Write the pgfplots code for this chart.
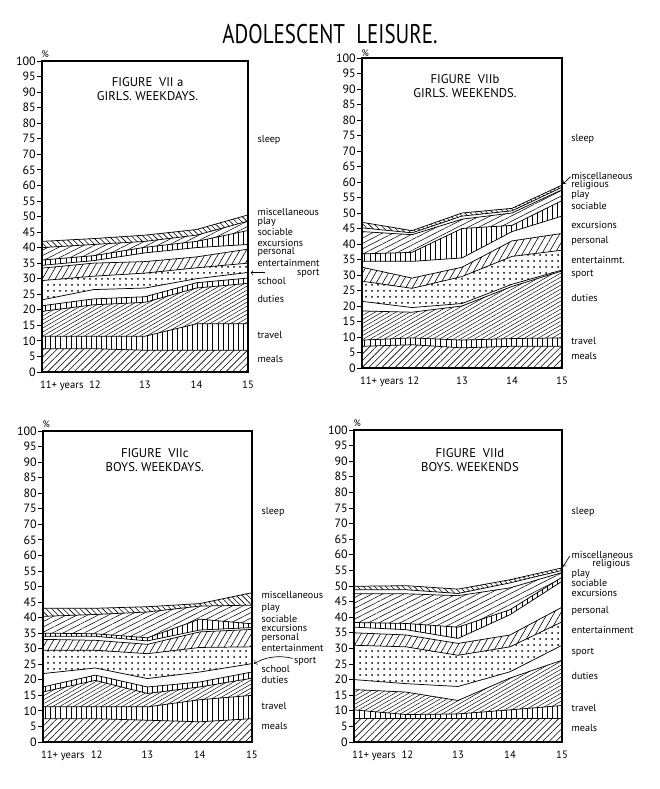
\documentclass[border=0pt]{standalone}
\usepackage{fontspec}
\setmainfont{PT Sans}
\usepackage{graphicx}
\usepackage{pgfplots}
\pgfplotsset{compat=1.18}
\usepackage{pgfplotstable}
\usepgfplotslibrary{fillbetween}
\usetikzlibrary{patterns.meta}

% cumulative upper boundaries of the bands (per cent of the day)
% a, c: meals travel duties school sport entertainment personal excursions sociable play misc
\pgfplotstableread{
x  b1  b2   b3   b4   b5   b6   b7   b8   b9   b10  b11
11 7.5 11.5 19.5 21.3 23.2 29.4 33.4 34.3 36.0 40.0 42.0
12 7.5 11.5 21.6 23.5 26.5 30.8 35.0 35.8 37.4 41.0 42.9
13 7.0 11.5 22.4 24.2 27.0 31.8 35.5 38.3 40.1 42.0 44.0
14 7.0 15.5 27.0 28.7 30.0 33.5 37.0 40.0 42.0 44.0 45.8
15 7.0 15.5 28.5 30.2 32.0 35.0 39.5 41.0 45.5 48.5 50.5
}\tA
% b, d: meals travel duties sport entertainment personal excursions sociable play religious misc
\pgfplotstableread{
x  b1  b2  b3   b4   b5   b6   b7   b8   b9   b10  b11
11 7.0 9.0 18.4 21.5 28.0 32.5 34.4 36.8 44.0 45.2 47.0
12 7.5 9.7 18.0 19.5 25.7 29.0 34.4 37.3 43.0 43.6 44.3
13 6.5 9.0 20.0 20.8 29.5 32.5 35.5 45.0 48.0 49.0 50.0
14 7.0 9.5 26.3 27.0 36.0 41.0 44.0 46.0 50.0 50.7 51.5
15 7.0 9.7 31.3 31.6 38.0 43.4 49.0 54.0 57.5 58.3 59.0
}\tB
\pgfplotstableread{
x  b1  b2   b3   b4   b5   b6   b7   b8   b9   b10  b11
11 7.5 11.3 16.1 17.7 22.0 29.5 33.0 34.0 35.0 40.4 43.0
12 7.5 11.3 19.8 21.5 23.8 29.5 32.7 34.0 34.8 41.0 43.0
13 7.0 11.3 15.6 17.7 20.4 28.4 31.4 32.5 33.5 41.8 43.5
14 6.5 13.6 17.7 19.3 22.5 30.4 35.4 36.0 39.5 43.7 44.5
15 7.5 15.0 20.5 22.5 25.2 30.6 36.2 36.8 38.0 44.0 48.0
}\tC
\pgfplotstableread{
x  b1  b2   b3   b4   b5   b6   b7   b8   b9   b10  b11
11 7.5 10.3 16.8 20.0 31.0 35.0 36.8 38.3 47.5 48.8 49.9
12 7.5 8.8  16.0 18.7 30.5 34.3 36.0 38.0 47.5 48.8 50.1
13 7.5 9.0  13.3 17.8 27.8 31.6 33.2 36.8 46.9 47.6 49.0
14 7.5 10.3 20.5 22.5 30.5 34.3 40.8 42.4 49.4 51.0 52.0
15 7.5 11.7 26.2 31.0 38.5 43.2 51.5 52.8 54.3 55.0 55.8
}\tD

\tikzset{
 pNE/.style={pattern={Lines[angle=45,distance=3.5pt,line width=0.45pt]},pattern color=black},
 pV/.style={pattern={Lines[angle=90,distance=3.8pt,line width=0.5pt]},pattern color=black},
 pDuty/.style={pattern={Lines[angle=30,distance=2.6pt,line width=0.35pt]},pattern color=black},
 pDots/.style={pattern={Dots[distance=4.5pt,radius=0.75pt]},pattern color=black},
 pPers/.style={pattern={Lines[angle=60,distance=4.2pt,line width=0.45pt]},pattern color=black},
 pPlay/.style={pattern={Lines[angle=27,distance=3.6pt,line width=0.4pt]},pattern color=black},
 pMisc/.style={pattern={Lines[angle=-45,distance=3pt,line width=0.45pt]},pattern color=black},
 lbl/.style={anchor=west,inner sep=0pt,font=\fontsize{7.6}{8}\selectfont},
 ftitle/.style={align=center,font=\fontsize{9.5}{10.5}\selectfont},
 pct/.style={font=\fontsize{7}{7}\selectfont,anchor=south west,inner sep=0pt},
}

\newcommand{\bounds}[1]{%
 \addplot[draw=none,name path=b0] coordinates {(11,0) (15,0)};
 \pgfplotsinvokeforeach{1,...,11}{\addplot[black,line width=0.55pt,name path=b##1] table[x=x,y=b##1]{#1};}
}
\newcommand{\band}[3]{\addplot[#3,draw=none] fill between[of=b#1 and b#2];}

\pgfplotsset{panel/.style={
 scale only axis, xmin=11, xmax=15, ymin=0, ymax=100,
 ytick={0,5,...,100}, xtick={11,12,13,14,15},
 xticklabels={\rlap{\kern-1.5pt 11+ years},\kern2pt 12,13,14,15},
 tick align=outside, tick pos=left, major tick length=3.5pt,
 xtick style={draw=none}, tick style={black,line width=0.6pt},
 axis line style={line width=0.8pt},
 /pgf/number format/assume math mode=true,
 yticklabel style={font=\fontsize{9}{9}\selectfont,inner sep=1pt},
 xticklabel style={font=\fontsize{8}{9}\selectfont},
 clip=false,
}}

\begin{document}
\begin{tikzpicture}
\node[inner sep=0pt] at (247.5pt,566pt) {\fontsize{15}{15}\selectfont\scalebox{1.05}[1.35]{ADOLESCENT\ \ LEISURE.}};

% ---------- a : girls weekdays
\begin{axis}[panel, at={(31.5pt,312.75pt)}, anchor=south west, width=154.5pt, height=233.25pt]
\bounds{\tA}
\band{0}{1}{pNE}\band{1}{2}{pV}\band{2}{3}{pDuty}\band{3}{4}{pV}
\band{5}{6}{pDots}\band{6}{7}{pPers}\band{8}{9}{pV}\band{9}{10}{pPlay}\band{10}{11}{pMisc}
\node[pct] at ([xshift=-0.5pt,yshift=2.2pt]axis cs:11,100) {\%};
\node[ftitle] at (axis cs:13.05,91.1) {FIGURE\ \ VII a\\GIRLS. WEEKDAYS.};
\node[lbl] at (axis cs:15.18,74.6) {sleep};
\node[lbl] at (axis cs:15.18,51.3) {miscellaneous};
\node[lbl] at (axis cs:15.18,48.3) {play};
\node[lbl] at (axis cs:15.18,45.0) {sociable};
\node[lbl] at (axis cs:15.18,41.6) {excursions};
\node[lbl] at (axis cs:15.18,38.5) {personal};
\node[lbl] at (axis cs:15.18,35.2) {entertainment};
\node[lbl] at (axis cs:15.95,31.7) {sport};
\node[lbl] at (axis cs:15.18,29.4) {school};
\node[lbl] at (axis cs:15.18,23.6) {duties};
\node[lbl] at (axis cs:15.18,11.8) {travel};
\node[lbl] at (axis cs:15.18,4.3) {meals};
\draw[->,line width=0.5pt] (axis cs:15.33,31.9) -- (axis cs:15.05,31.9);
\end{axis}

% ---------- b : girls weekends
\begin{axis}[panel, at={(271.5pt,315.75pt)}, anchor=south west, width=150pt, height=232.5pt]
\bounds{\tB}
\band{0}{1}{pNE}\band{1}{2}{pV}\band{2}{3}{pDuty}
\band{4}{5}{pDots}\band{5}{6}{pPers}\band{7}{8}{pV}\band{8}{9}{pPlay}\band{10}{11}{pMisc}
\node[pct] at ([xshift=-0.5pt,yshift=1pt]axis cs:11,100) {\%};
\node[ftitle] at (axis cs:13.06,90.8) {FIGURE\ \ VIIb\\GIRLS. WEEKENDS.};
\node[lbl] at (axis cs:15.18,73.9) {sleep};
\node[lbl] at (axis cs:15.18,62.0) {miscellaneous};
\node[lbl] at (axis cs:15.18,59.0) {religious};
\node[lbl] at (axis cs:15.18,55.9) {play};
\node[lbl] at (axis cs:15.18,52.2) {sociable};
\node[lbl] at (axis cs:15.18,46.0) {excursions};
\node[lbl] at (axis cs:15.18,41.1) {personal};
\node[lbl] at (axis cs:15.18,34.9) {entertainmt.};
\node[lbl] at (axis cs:15.18,30.3) {sport};
\node[lbl] at (axis cs:15.18,22.6) {duties};
\node[lbl] at (axis cs:15.18,8.8) {travel};
\node[lbl] at (axis cs:15.18,3.8) {meals};
\draw[->,line width=0.5pt] (axis cs:15.17,61.7) -- (axis cs:15.02,59.4);
\end{axis}

% ---------- c : boys weekdays
\begin{axis}[panel, at={(32.25pt,35.25pt)}, anchor=south west, width=156.75pt, height=233.25pt]
\bounds{\tC}
\band{0}{1}{pNE}\band{1}{2}{pV}\band{2}{3}{pDuty}\band{3}{4}{pV}
\band{5}{6}{pDots}\band{6}{7}{pPers}\band{8}{9}{pV}\band{9}{10}{pPlay}\band{10}{11}{pMisc}
\node[pct] at ([xshift=-0.5pt,yshift=2.2pt]axis cs:11,100) {\%};
\node[ftitle] at (axis cs:13.14,90.5) {FIGURE\ \ VIIc\\BOYS. WEEKDAYS.};
\node[lbl] at (axis cs:15.18,74.0) {sleep};
\node[lbl] at (axis cs:15.18,47.3) {miscellaneous};
\node[lbl] at (axis cs:15.18,43.0) {play};
\node[lbl] at (axis cs:15.18,39.5) {sociable};
\node[lbl] at (axis cs:15.18,36.6) {excursions};
\node[lbl] at (axis cs:15.18,33.4) {personal};
\node[lbl] at (axis cs:15.18,30.2) {entertainment};
\node[lbl] at (axis cs:15.8,26.0) {sport};
\node[lbl] at (axis cs:15.18,23.5) {school};
\node[lbl] at (axis cs:15.18,19.8) {duties};
\node[lbl] at (axis cs:15.18,11.7) {travel};
\node[lbl] at (axis cs:15.18,5.0) {meals};
\draw[->,line width=0.5pt] (axis cs:15.78,26.9) .. controls (axis cs:15.5,28) and (axis cs:15.25,27.3) .. (axis cs:15.04,25.2);
\end{axis}

% ---------- d : boys weekends
\begin{axis}[panel, at={(265.5pt,35.25pt)}, anchor=south west, width=156pt, height=234pt]
\bounds{\tD}
\band{0}{1}{pNE}\band{1}{2}{pV}\band{2}{3}{pDuty}
\band{4}{5}{pDots}\band{5}{6}{pPers}\band{7}{8}{pV}\band{8}{9}{pPlay}\band{10}{11}{pMisc}
\node[pct] at ([xshift=-0.5pt,yshift=2.2pt]axis cs:11,100) {\%};
\node[ftitle] at (axis cs:13.23,90.5) {FIGURE\ \ VIId\\BOYS.\ WEEKENDS};
\node[lbl] at (axis cs:15.18,73.8) {sleep};
\node[lbl] at (axis cs:15.18,60.0) {miscellaneous};
\node[lbl] at (axis cs:15.58,56.9) {religious};
\node[lbl] at (axis cs:15.18,54.0) {play};
\node[lbl] at (axis cs:15.18,51.1) {sociable};
\node[lbl] at (axis cs:15.18,47.9) {excursions};
\node[lbl] at (axis cs:15.18,42.0) {personal};
\node[lbl] at (axis cs:15.18,35.8) {entertainment};
\node[lbl] at (axis cs:15.18,28.6) {sport};
\node[lbl] at (axis cs:15.18,21.2) {duties};
\node[lbl] at (axis cs:15.18,11.0) {travel};
\node[lbl] at (axis cs:15.18,4.6) {meals};
\draw[->,line width=0.5pt] (axis cs:15.15,59.6) -- (axis cs:15.02,56.2);
\end{axis}
\pgfresetboundingbox
\path[use as bounding box] (0,0) rectangle (495pt,591.75pt);
\end{tikzpicture}
\end{document}
